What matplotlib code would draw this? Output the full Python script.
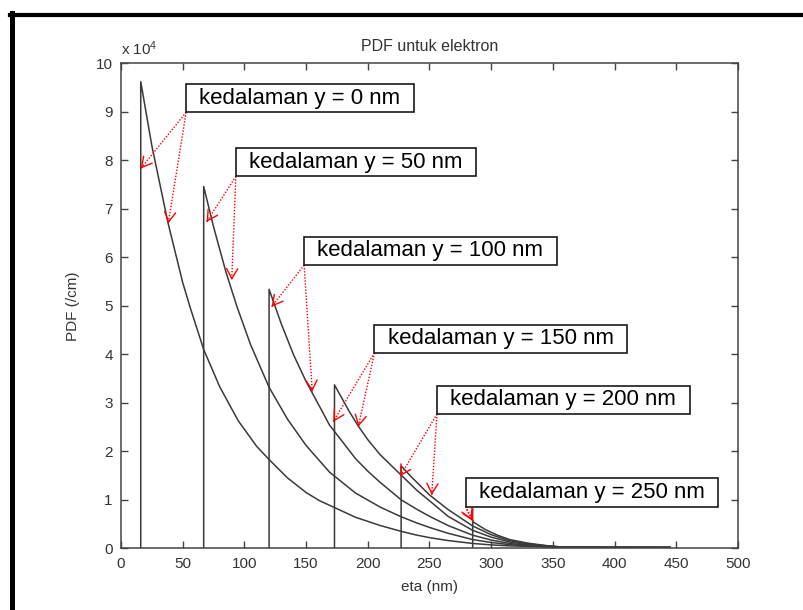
import matplotlib
matplotlib.use('Agg')
import matplotlib.pyplot as plt
from matplotlib.path import Path
from matplotlib.lines import Line2D

plt.rcParams['font.family'] = ['Liberation Sans', 'DejaVu Sans']
plt.rcParams['mathtext.fontset'] = 'custom'
plt.rcParams['mathtext.rm'] = 'Liberation Sans'
plt.rcParams['mathtext.default'] = 'regular'

# PDF per kedalaman, nilai dalam satuan 1e4 /cm
eta_0 = [16, 16, 25, 38, 50, 56, 67, 80, 95, 110, 120, 135, 150, 161, 173, 190, 210, 227, 240, 250, 265, 285, 300, 315, 330, 345, 355, 380, 445]
pdf_0 = [0, 9.62, 8.30, 6.72, 5.48, 4.97, 4.10, 3.33, 2.63, 2.10, 1.83, 1.45, 1.15, 0.98, 0.84, 0.64, 0.47, 0.35, 0.27, 0.22, 0.16, 0.10, 0.07, 0.05, 0.04, 0.03, 0.022, 0.02, 0.018]

eta_1 = [67, 67, 75, 85, 94, 105, 120, 135, 150, 169, 190, 210, 227, 240, 250, 265, 285, 300, 315, 330, 345, 355, 380, 445]
pdf_1 = [0, 7.46, 6.63, 5.70, 4.98, 4.20, 3.32, 2.66, 2.12, 1.57, 1.14, 0.85, 0.65, 0.52, 0.43, 0.31, 0.18, 0.12, 0.075, 0.05, 0.035, 0.024, 0.02, 0.018]

eta_2 = [120, 120, 130, 140, 150, 161, 169, 180, 190, 200, 210, 227, 240, 250, 265, 285, 300, 315, 330, 345, 355, 380, 445]
pdf_2 = [0, 5.34, 4.62, 3.98, 3.44, 2.92, 2.54, 2.18, 1.85, 1.59, 1.36, 1.00, 0.80, 0.66, 0.47, 0.27, 0.17, 0.10, 0.06, 0.04, 0.026, 0.02, 0.018]

eta_3 = [173, 173, 185, 192, 200, 210, 227, 240, 250, 265, 285, 300, 315, 330, 345, 355, 380, 445]
pdf_3 = [0, 3.37, 2.82, 2.53, 2.24, 1.93, 1.51, 1.19, 0.98, 0.66, 0.37, 0.23, 0.13, 0.075, 0.045, 0.028, 0.02, 0.018]

eta_4 = [227, 227, 235, 250, 265, 285, 300, 315, 330, 345, 355, 380, 445]
pdf_4 = [0, 1.70, 1.48, 1.10, 0.80, 0.46, 0.28, 0.155, 0.09, 0.05, 0.03, 0.02, 0.018]

eta_5 = [285, 285, 295, 305, 315, 330, 345, 355, 380, 445]
pdf_5 = [0, 0.55, 0.39, 0.27, 0.18, 0.105, 0.055, 0.032, 0.02, 0.018]

curves = [(eta_0, pdf_0), (eta_1, pdf_1), (eta_2, pdf_2),
          (eta_3, pdf_3), (eta_4, pdf_4), (eta_5, pdf_5)]

labels = ['kedalaman y = 0 nm', 'kedalaman y = 50 nm', 'kedalaman y = 100 nm',
          'kedalaman y = 150 nm', 'kedalaman y = 200 nm', 'kedalaman y = 250 nm']
label_pos = [(145.1, 9.28), (190.4, 7.96), (250.8, 6.13),
             (307.8, 4.32), (358.4, 3.06), (381.5, 1.15)]
arrow_tips = [[(16, 7.83), (38.3, 6.70)],
              [(69.4, 6.73), (89.7, 5.53)],
              [(122.1, 4.98), (155, 3.23)],
              [(172, 2.61), (192.3, 2.51)],
              [(226.1, 1.48), (251.8, 1.10)],
              [(284.2, 0.58), (285.5, 0.56)]]


def label_box(x0, y0, width, height, mutation_size):
    padx = 0.6 * mutation_size
    pady = 0.16 * mutation_size
    x0, y0 = x0 - padx, y0 - pady
    x1, y1 = x0 + width + 2 * padx, y0 + height + 2 * pady
    return Path([(x0, y0), (x1, y0), (x1, y1), (x0, y1), (x0, y0)], closed=True)


fig = plt.figure(figsize=(8.04, 6.10), dpi=100)
ax = fig.add_axes([121 / 804, 1 - 548.3 / 610, 617 / 804, 485 / 610])

for eta, pdf in curves:
    ax.plot(eta, pdf, color='#3a3a3a', lw=1.1)

ax.set_xlim(0, 500)
ax.set_ylim(0, 10)
ax.set_xticks(range(0, 501, 50))
ax.set_yticks(range(0, 11))
ax.tick_params(direction='in', top=True, right=True, length=5, width=1,
               color='#444444', labelcolor='#333333', labelsize=11, pad=6)
for s in ax.spines.values():
    s.set_color('#444444')
    s.set_linewidth(1.1)

ax.set_title('PDF untuk elektron', fontsize=11.5, color='#333333', pad=9)
ax.set_xlabel('eta (nm)', fontsize=11, color='#333333', labelpad=7)
ax.set_ylabel('PDF (/cm)', fontsize=11, color='#333333', labelpad=11)
ax.annotate('x 10$^{4}$', xy=(0, 1), xycoords='axes fraction', xytext=(0, 6),
            textcoords='offset points', ha='left', va='baseline',
            fontsize=11, color='#333333')

texts = []
for lab, (lx, ly) in zip(labels, label_pos):
    t = ax.text(lx, ly, lab, ha='center', va='center', fontsize=16, color='black',
                zorder=5, bbox=dict(boxstyle=label_box, fc='white', ec='#1a1a1a', lw=1.2))
    texts.append(t)

# bingkai hitam
fig.add_artist(Line2D([12.5 / 804, 12.5 / 804], [0, 1 - 12.5 / 610], color='black', lw=3.6))
fig.add_artist(Line2D([10 / 804, 1], [1 - 14.5 / 610, 1 - 14.5 / 610], color='black', lw=3.0))

fig.canvas.draw()
renderer = fig.canvas.get_renderer()
inv = ax.transData.inverted()
for t, tips in zip(texts, arrow_tips):
    ext = t.get_bbox_patch().get_window_extent(renderer)
    cx, cy = inv.transform((ext.x0, ext.y0))
    for tx, ty in tips:
        ax.plot([cx, tx], [cy, ty], color='red', lw=1.0, ls=(0, (1, 1.2)),
                clip_on=False, zorder=4)
        bx = tx + 0.02 * (cx - tx)
        by = ty + 0.02 * (cy - ty)
        ax.annotate('', xy=(tx, ty), xytext=(bx, by), zorder=4,
                    arrowprops=dict(arrowstyle='->,head_length=0.45,head_width=0.25',
                                    color='red', lw=1.0, shrinkA=0, shrinkB=0,
                                    mutation_scale=16))

fig.savefig('out.png', dpi=100)
